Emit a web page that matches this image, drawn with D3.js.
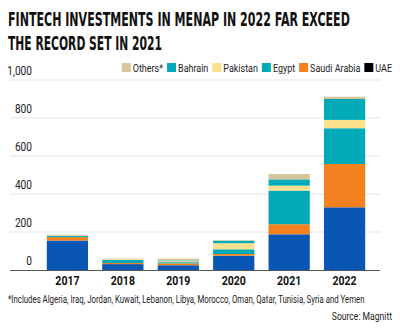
<!DOCTYPE html>
<html>
<head>
<meta charset="utf-8">
<script src="https://cdn.jsdelivr.net/npm/d3@7"></script>
<style>
  body { margin: 0; background: #fff; }
  svg text { font-family: "Roboto", "DejaVu Sans Condensed", sans-serif; }
  .grid line { stroke: #e3e3e3; }
  .title { font-weight: bold; font-size: 20px; fill: #111; font-family: "DejaVu Sans Condensed", "Roboto", sans-serif; }
</style>
</head>
<body>
<svg id="chart" width="400" height="329"></svg>
<script>
// data ($m)
const years = ["2017", "2018", "2019", "2020", "2021", "2022"];
const seriesNames = ["UAE", "Saudi Arabia", "Egypt", "Pakistan", "Bahrain", "Others*"];
const uae = [155, 31, 25, 75, 188, 330];
const saudi = [18, 6, 10, 9, 53, 228];
const egypt = [6, 16, 6, 25, 177, 188];
const pakistan = [2, 4, 5, 32, 26, 44];
const bahrain = [0, 0, 4, 13, 33, 110];
const others = [5, 3, 10, 3, 28, 12];
const yTicks = [0, 200, 400, 600, 800, 1000];

const colors = {
  "UAE": "#0a56b4",
  "Saudi Arabia": "#f4811f",
  "Egypt": "#00aab6",
  "Pakistan": "#fde08c",
  "Bahrain": "#00aab6",
  "Others*": "#d6c59b"
};
const legendColors = Object.assign({}, colors, { "UAE": "#000" });

// squeeze text horizontally, the source uses a condensed face
const SQ = 0.78;
function place(sel, fx, fy) {
  return sel.attr("transform", (d, i) => "translate(" + fx(d, i) + "," + fy(d, i) + ") scale(" + SQ + ",1)");
}
// squeeze a text so that it spans a given width
function fitTo(t, px, py, width) {
  let w = t.node().getComputedTextLength();
  t.attr("transform", "translate(" + px + "," + py + ") scale(" + (width / w) + ",1)");
  return t;
}

let svg = d3.select("#chart");

// title
fitTo(svg.append("text").attr("class", "title")
  .text("FINTECH INVESTMENTS IN MENAP IN 2022 FAR EXCEED"), 8, 26, 342);
fitTo(svg.append("text").attr("class", "title")
  .text("THE RECORD SET IN 2021"), 8, 50, 154);

// scales
let x = d3.scaleBand().domain(years).range([32.6, 379.4]).padding(0.256);
let y = d3.scaleLinear().domain([0, 1000]).range([270, 80]);

// gridlines + tick labels
svg.append("g").attr("class", "grid")
  .selectAll("line").data(yTicks.slice(1)).enter().append("line")
  .attr("x1", 10).attr("x2", 380)
  .attr("y1", d => y(d)).attr("y2", d => y(d));
place(svg.append("g").selectAll("text").data(yTicks).enter().append("text"),
    () => 32, d => y(d) - 5)
  .attr("text-anchor", "end")
  .style("font-size", "13px").style("fill", "#222")
  .text(d => d3.format(",")(d));

// stacked bars
let table = years.map((yr, i) => ({
  year: yr,
  "UAE": uae[i], "Saudi Arabia": saudi[i], "Egypt": egypt[i],
  "Pakistan": pakistan[i], "Bahrain": bahrain[i], "Others*": others[i]
}));
let stacked = d3.stack().keys(seriesNames)(table);

svg.append("g").selectAll("g").data(stacked).enter().append("g")
  .attr("fill", d => colors[d.key])
  .selectAll("rect").data(d => d).enter().append("rect")
  .attr("x", d => x(d.data.year))
  .attr("width", x.bandwidth())
  .attr("y", d => y(d[1]))
  .attr("height", d => y(d[0]) - y(d[1]));

// baseline
svg.append("line").attr("x1", 10).attr("x2", 380)
  .attr("y1", y(0) + 0.5).attr("y2", y(0) + 0.5)
  .attr("stroke", "#555").attr("stroke-width", 1);

// x axis labels
place(svg.append("g").selectAll("text").data(years).enter().append("text"),
    d => x(d) + x.bandwidth() / 2, () => 285)
  .attr("text-anchor", "middle")
  .style("font-size", "13.5px").style("font-weight", "bold").style("fill", "#111")
  .text(d => d);

// legend, laid out right to left from the right edge
let legend = svg.append("g");
let lx = 392;
seriesNames.forEach(name => {
  let t = legend.append("text")
    .attr("transform", "translate(" + lx + ",71.5) scale(" + SQ + ",1)")
    .attr("text-anchor", "end")
    .style("font-size", "11.5px").style("fill", "#222")
    .text(name);
  let w = t.node().getComputedTextLength() * SQ;
  legend.append("rect")
    .attr("x", lx - w - 11).attr("y", 63)
    .attr("width", 9).attr("height", 9)
    .attr("fill", legendColors[name]);
  lx = lx - w - 15;
});

// footnotes
fitTo(svg.append("text")
  .style("font-size", "11px").style("fill", "#222")
  .text("*Includes Algeria, Iraq, Jordan, Kuwait, Lebanon, Libya, Morocco, Oman, Qatar, Tunisia, Syria and Yemen"),
  8, 303, 357);
place(svg.append("text").datum(0), () => 392, () => 320)
  .attr("text-anchor", "end")
  .style("font-size", "11px").style("fill", "#222")
  .text("Source: Magnitt");
</script>
</body>
</html>
